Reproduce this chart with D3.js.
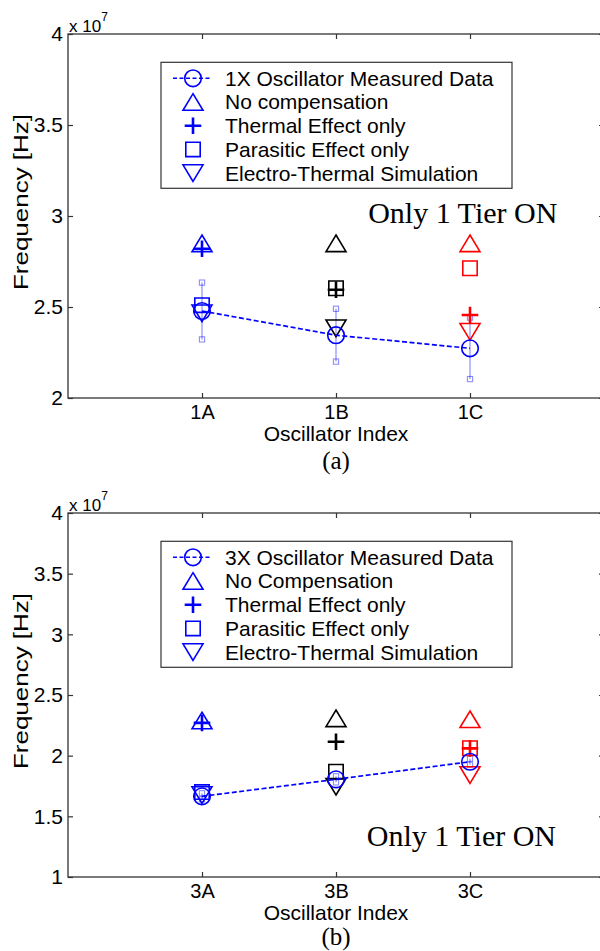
<!DOCTYPE html>
<html>
<head>
<meta charset="utf-8">
<script src="https://cdn.jsdelivr.net/npm/d3@7"></script>
<style>
  body { margin: 0; background: #fff; }
  svg { display: block; }
  text { font-family: "Liberation Sans", Arial, Helvetica, sans-serif; }
</style>
</head>
<body>
<svg id="fig" width="600" height="951"></svg>
<script>
// Oscillator frequencies, in units of 1e7 Hz

// (a) single-stage (1X) oscillators
const topCategories = ["1A", "1B", "1C"];
const topMeasured = [2.478, 2.345, 2.273];
const topMeasuredErr = [0.156, 0.145, 0.169];
const topNoComp = [2.85, 2.85, 2.85];
const topThermal = [2.82, 2.595, 2.456];
const topParasitic = [2.51, 2.603, 2.713];
const topElectroThermal = [2.465, 2.383, 2.364];
const topYTicks = [2, 2.5, 3, 3.5, 4];
const topLegend = ["1X Oscillator Measured Data", "No compensation", "Thermal Effect only",
                   "Parasitic Effect only", "Electro-Thermal Simulation"];

// (b) three-stage (3X) oscillators
const bottomCategories = ["3A", "3B", "3C"];
const bottomMeasured = [1.665, 1.805, 1.95];
const bottomMeasuredErr = [0.025, 0.025, 0.025];
const bottomNoComp = [2.29, 2.308, 2.30];
const bottomThermal = [2.27, 2.115, 2.06];
const bottomParasitic = [1.70, 1.868, 2.061];
const bottomElectroThermal = [1.675, 1.744, 1.84];
const bottomYTicks = [1, 1.5, 2, 2.5, 3, 3.5, 4];
const bottomLegend = ["3X Oscillator Measured Data", "No Compensation", "Thermal Effect only",
                      "Parasitic Effect only", "Electro-Thermal Simulation"];

const categoryColors = ["#0000ff", "#000000", "#ff0000"];
const measuredColor = "#0000ff";
const axisColor = "#333";

const svg = d3.select("#fig");

// marker shapes (centred on 0,0)
const shapes = {
  triUp:   "M0,-8.3L10,8.3L-10,8.3Z",
  triDown: "M0,8.3L10,-8.3L-10,-8.3Z",
  square:  "M-7.2,-7.2H7.2V7.2H-7.2Z",
  plus:    "M-8.3,0H8.3M0,-8.3V8.3"
};

function drawMarker(g, kind, cx, cy, color) {
  if (kind === "circle") {
    g.append("circle").attr("cx", cx).attr("cy", cy).attr("r", 8.3)
      .attr("fill", "none").attr("stroke", color).attr("stroke-width", 1.6);
  } else {
    g.append("path").attr("d", shapes[kind])
      .attr("transform", `translate(${cx},${cy})`)
      .attr("fill", "none").attr("stroke", color)
      .attr("stroke-width", kind === "plus" ? 2.6 : 1.6);
  }
}

function styleAxis(sel, size) {
  sel.select(".domain").remove();
  sel.selectAll(".tick line").attr("stroke", axisColor).attr("stroke-width", 1.2);
  sel.selectAll(".tick text").attr("fill", "#000")
    .style("font-size", size + "px")
    .style("font-family", "'Liberation Sans', Arial, sans-serif");
}

function drawPanel(cfg) {
  const g = svg.append("g");
  const x = d3.scaleLinear().domain([0, 4]).range([68, 604]);
  const y = d3.scaleLinear().domain(cfg.yDomain).range([cfg.yBottom, cfg.yTop]);

  // left axis with labels
  g.append("g").attr("transform", "translate(68,0)")
    .call(d3.axisLeft(y).tickValues(cfg.yTicks).tickFormat(d3.format("~g"))
      .tickSizeInner(-5).tickSizeOuter(0).tickPadding(5))
    .call(s => styleAxis(s, 21));
  // right axis, ticks only
  g.append("g").attr("transform", "translate(604,0)")
    .call(d3.axisRight(y).tickValues(cfg.yTicks).tickFormat("")
      .tickSizeInner(-5).tickSizeOuter(0))
    .call(s => styleAxis(s, 21));
  // bottom axis with category labels
  g.append("g").attr("transform", `translate(0,${cfg.yBottom})`)
    .call(d3.axisBottom(x).tickValues([1, 2, 3]).tickFormat((d, i) => cfg.categories[i])
      .tickSizeInner(-5).tickSizeOuter(0).tickPadding(7))
    .call(s => styleAxis(s, 20));
  // top axis, ticks only
  g.append("g").attr("transform", `translate(0,${cfg.yTop})`)
    .call(d3.axisTop(x).tickValues([1, 2, 3]).tickFormat("")
      .tickSizeInner(-5).tickSizeOuter(0))
    .call(s => styleAxis(s, 20));

  // axes frame
  g.append("rect").attr("x", 68).attr("y", cfg.yTop)
    .attr("width", 536).attr("height", cfg.yBottom - cfg.yTop)
    .attr("fill", "none").attr("stroke", axisColor).attr("stroke-width", 1.3);

  // exponent label
  const ex = g.append("text").attr("x", 69).attr("y", cfg.yTop - 2.5)
    .style("font-size", "17px").attr("fill", "#000");
  ex.append("tspan").text("x 10");
  ex.append("tspan").attr("dy", -10.5).style("font-size", "12px").text("7");

  // axis titles
  g.append("text").attr("x", x(2)).attr("y", cfg.yBottom + 42.5)
    .attr("text-anchor", "middle").style("font-size", "21px").text("Oscillator Index");
  g.append("text")
    .attr("transform", `translate(28,${(cfg.yTop + cfg.yBottom) / 2 - 14}) rotate(-90)`)
    .attr("text-anchor", "middle").style("font-size", "21px")
    .attr("textLength", 176).attr("lengthAdjust", "spacingAndGlyphs")
    .text("Frequency [Hz]");

  // sub-figure caption
  g.append("text").attr("x", x(2)).attr("y", cfg.captionY)
    .attr("text-anchor", "middle")
    .style("font-family", "'Liberation Serif', 'Times New Roman', serif")
    .style("font-size", "25px").text(cfg.caption);

  // annotation
  g.append("text").attr("x", x(cfg.noteAt[0])).attr("y", y(cfg.noteAt[1]))
    .style("font-family", "'Liberation Serif', 'Times New Roman', serif")
    .style("font-size", "30px").text("Only 1 Tier ON");

  const plot = g.append("g");
  const errColor = "rgba(0,0,255,0.45)";

  // error bars on measured data
  cfg.measured.forEach((v, i) => {
    const cx = x(i + 1), lo = y(v - cfg.err[i]), hi = y(v + cfg.err[i]);
    plot.append("line").attr("x1", cx).attr("x2", cx).attr("y1", lo).attr("y2", hi)
      .attr("stroke", errColor).attr("stroke-width", 1.2);
    [lo, hi].forEach(py => plot.append("rect")
      .attr("x", cx - 2.6).attr("y", py - 2.6).attr("width", 5.2).attr("height", 5.2)
      .attr("fill", "none").attr("stroke", errColor).attr("stroke-width", 1.1));
  });

  // simulated series, coloured per oscillator
  const series = [
    [cfg.noComp, "triUp"], [cfg.thermal, "plus"],
    [cfg.parasitic, "square"], [cfg.electroThermal, "triDown"]
  ];
  series.forEach(([vals, kind]) => {
    vals.forEach((v, i) => drawMarker(plot, kind, x(i + 1), y(v), categoryColors[i]));
  });

  // measured data: dashed line with circles
  plot.append("path")
    .datum(cfg.measured)
    .attr("d", d3.line().x((d, i) => x(i + 1)).y(d => y(d)))
    .attr("fill", "none").attr("stroke", measuredColor)
    .attr("stroke-width", 1.7).attr("stroke-dasharray", "5,2.5");
  cfg.measured.forEach((v, i) => drawMarker(plot, "circle", x(i + 1), y(v), measuredColor));

  // legend
  const lg = g.append("g").attr("transform", `translate(161,${cfg.yTop + 28.3})`);
  lg.append("rect").attr("width", 351).attr("height", 126)
    .attr("fill", "#fff").attr("stroke", axisColor).attr("stroke-width", 1.2);
  const kinds = ["circle", "triUp", "plus", "square", "triDown"];
  cfg.legend.forEach((label, i) => {
    const ry = 16 + i * 23.7;
    if (i === 0) {
      lg.append("line").attr("x1", 12).attr("x2", 49).attr("y1", ry).attr("y2", ry)
        .attr("stroke", measuredColor).attr("stroke-width", 1.4)
        .attr("stroke-dasharray", "4,2.5");
    }
    drawMarker(lg, kinds[i], 32, ry, measuredColor);
    lg.append("text").attr("x", 64).attr("y", ry + 7.5)
      .style("font-size", "21px").attr("fill", "#000").text(label);
  });
}

drawPanel({
  yTop: 34, yBottom: 398, yDomain: [2, 4], yTicks: topYTicks,
  categories: topCategories, measured: topMeasured, err: topMeasuredErr,
  noComp: topNoComp, thermal: topThermal, parasitic: topParasitic,
  electroThermal: topElectroThermal, legend: topLegend,
  caption: "(a)", captionY: 469, noteAt: [2.24, 2.963]
});

drawPanel({
  yTop: 513, yBottom: 877, yDomain: [1, 4], yTicks: bottomYTicks,
  categories: bottomCategories, measured: bottomMeasured, err: bottomMeasuredErr,
  noComp: bottomNoComp, thermal: bottomThermal, parasitic: bottomParasitic,
  electroThermal: bottomElectroThermal, legend: bottomLegend,
  caption: "(b)", captionY: 945, noteAt: [2.23, 1.256]
});
</script>
</body>
</html>
